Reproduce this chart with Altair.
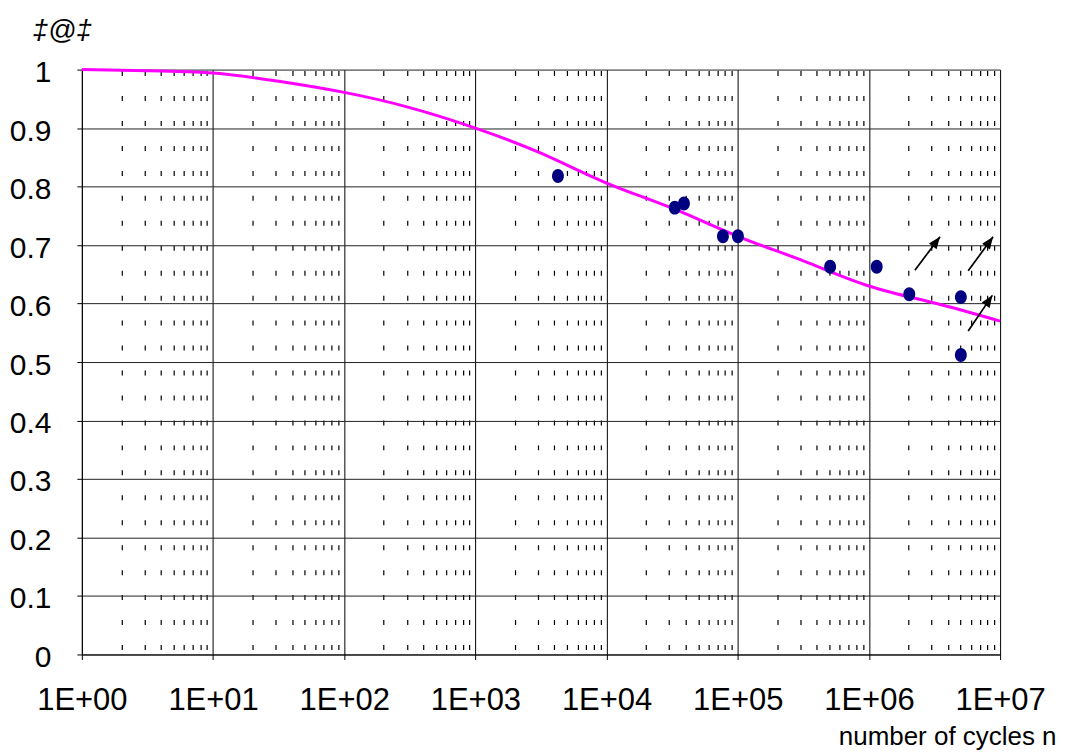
import altair as alt
import pandas as pd

# ---- data ----
curve_n = [1, 3.16, 10, 31.6, 100, 316, 1e3, 3.16e3, 1e4, 3.16e4, 1e5, 3.16e5, 1e6, 3.16e6, 1e7]
curve_s = [1.0, 0.998, 0.994, 0.980, 0.961, 0.935, 0.900, 0.857, 0.806, 0.763, 0.715, 0.673, 0.630, 0.601, 0.570]

test_n = [4260, 33100, 38900, 77100, 100300, 506000, 1146000, 2030000, 5020000, 5020000]
test_s = [0.818, 0.764, 0.771, 0.715, 0.715, 0.663, 0.663, 0.616, 0.611, 0.512]

arrow_tail_n = [2.24e6, 5.71e6, 5.71e6]
arrow_tail_s = [0.657, 0.656, 0.553]
arrow_tip_n = [3.48e6, 8.84e6, 8.73e6]
arrow_tip_s = [0.714, 0.714, 0.614]
arrow_angle = [37, 36, 34]

x_ticks = [m * 10 ** k for k in range(7) for m in range(1, 10)] + [10 ** 7]
y_ticks = [0, 0.1, 0.2, 0.3, 0.4, 0.5, 0.6, 0.7, 0.8, 0.9, 1]

curve = pd.DataFrame({"n": curve_n, "s": curve_s})
tests = pd.DataFrame({"n": test_n, "s": test_s})
arrows = pd.DataFrame({"n": arrow_tail_n, "s": arrow_tail_s,
                       "n2": arrow_tip_n, "s2": arrow_tip_s, "angle": arrow_angle})

FONT = "Liberation Sans"
decade = "abs(log(datum.value)/LN10 - round(log(datum.value)/LN10)) < 0.001"

x_scale = alt.Scale(type="log", domain=[1, 1e7], nice=False)
y_scale = alt.Scale(domain=[0, 1], nice=False, zero=False)

x_axis = alt.Axis(
    values=x_ticks,
    labelExpr="(" + decade + ") ? '1E+0' + round(log(datum.value)/LN10) : ''",
    labelOverlap=False, labelFlush=False, labelBound=False,
    grid=True, gridColor="black",
    gridWidth={"condition": {"test": decade, "value": 1}, "value": 1.2},
    gridDash={"condition": {"test": decade, "value": []}, "value": [5, 20]},
    gridDashOffset=24,
    tickColor={"condition": {"test": decade, "value": "black"}, "value": "transparent"},
    tickSize=5, tickWidth=1,
    domainColor="black", domainWidth=1,
    labelFont=FONT, labelFontSize=31, labelColor="black",
    labelPadding=50, labelBaseline="alphabetic",
    title="number of cycles n", titleFont=FONT, titleFontSize=26,
    titleFontWeight="normal", titleColor="black",
    titleX=976, titleY=90, titleAlign="right", titleBaseline="alphabetic", titleAnchor="start",
)

y_axis = alt.Axis(
    values=y_ticks, format=".1~f",
    grid=True, gridColor="#222222", gridWidth=1,
    tickColor="black", tickSize=5, tickWidth=1,
    domainColor="black", domainWidth=1,
    labelFont=FONT, labelFontSize=30, labelColor="black",
    labelPadding=26, labelAlign="right", labelBaseline="middle", labelOffset=3,
    labelOverlap=False, labelFlush=False, labelBound=False,
    title="‡@‡", titleFont=FONT, titleFontSize=28, titleFontStyle="italic",
    titleFontWeight="normal", titleColor="black", titleAngle=0,
    titleX=-50, titleY=-31, titleAlign="left", titleBaseline="alphabetic", titleAnchor="start",
)

X = alt.X("n:Q", scale=x_scale, axis=x_axis)
Y = alt.Y("s:Q", scale=y_scale, axis=y_axis)

line = alt.Chart(curve).mark_line(color="#FF00FF", strokeWidth=3, interpolate="natural").encode(x=X, y=Y)

ellipse = "M-0.85,0A0.85,1,0,1,1,0.85,0A0.85,1,0,1,1,-0.85,0Z"
pts = alt.Chart(tests).mark_point(
    shape=ellipse, filled=True, color="#000080", opacity=1, size=196, strokeWidth=0
).encode(x=X, y=Y)

shafts = alt.Chart(arrows).mark_rule(color="black", strokeWidth=1.7).encode(
    x=X, y=Y, x2="n2:Q", y2="s2:Q")

heads = alt.Chart(arrows).mark_point(
    shape="M0,0L-0.4,1L0.4,1Z", filled=True, color="black", opacity=1, size=576, strokeWidth=0
).encode(x=alt.X("n2:Q", scale=x_scale, axis=x_axis), y=alt.Y("s2:Q", scale=y_scale, axis=y_axis),
         angle=alt.Angle("angle:Q", scale=None))

chart = alt.layer(line, pts, shafts, heads).properties(
    width=920, height=586,
    padding={"left": 74, "top": 61, "right": 57, "bottom": 100},
    autosize=alt.AutoSizeParams(type="none"),
    background="white",
).configure_view(stroke="transparent")

chart.save("out.html", embed_options={"renderer": "svg", "actions": False})
